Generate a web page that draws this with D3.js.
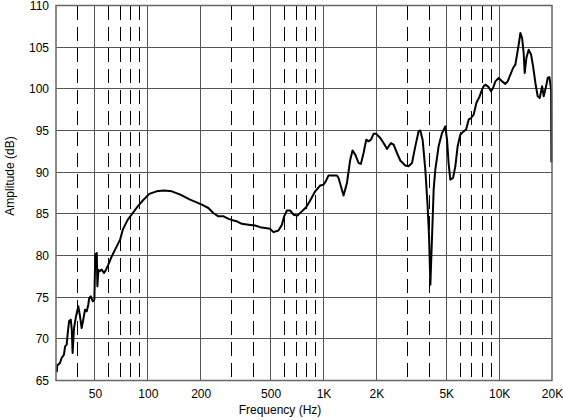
<!DOCTYPE html>
<html><head><meta charset="utf-8">
<script src="https://cdn.jsdelivr.net/npm/d3@7"></script>
<style>
html,body{margin:0;padding:0;background:#fff;}
svg{display:block;font-family:"Liberation Sans",Arial,sans-serif;}
</style></head>
<body>
<svg id="chart" width="563" height="420"></svg>
<script>
// Frequency response (Hz, dB)
const freqs = [30.3,30.5,31.6,32.3,33.3,33.8,34.5,35.0,35.6,36.4,36.9,37.3,38.0,39.0,40.2,41.1,42.0,42.9,43.9,44.9,45.8,46.4,47.3,48.6,49.6,50.2,51.2,51.6,52.3,52.9,54.6,56.3,57.8,59.6,62.3,65.1,69.5,72.0,76.9,82.1,87.6,93.6,102,112,123,137,153,174,203,221,236,252,270,288,307,321,343,374,408,436,466,497,519,554,580,597,619,646,675,711,754,797,840,897,958,1000,1030,1068,1193,1218,1301,1360,1420,1464,1517,1584,1634,1691,1752,1806,1864,1928,1998,2105,2198,2299,2423,2507,2621,2737,2922,3051,3192,3333,3480,3558,3668,3800,3917,3990,4060,4113,4183,4238,4333,4523,4731,4940,5051,5159,5275,5465,5632,5805,6012,6278,6481,6707,6921,7160,7420,7747,7994,8163,8346,8715,8997,9237,9519,9940,10392,10850,11184,11590,12007,12374,12923,13216,13514,13798,13980,14295,14733,15206,15609,16089,16581,17022,17567,17937,18512,18906,19332,19767,19845];
const amplitude = [66.0,66.8,67.1,67.7,68.1,69.1,69.3,70.7,72.1,72.3,71.1,68.3,71.3,72.7,73.9,72.7,71.3,72.3,73.5,73.3,74.1,74.9,75.1,74.5,74.7,80.1,80.3,76.3,78.3,78.1,78.3,77.9,78.3,78.9,79.9,80.7,81.9,83.1,84.3,85.1,85.9,86.6,87.4,87.7,87.8,87.7,87.3,86.7,86.1,85.7,85.1,84.7,84.7,84.4,84.2,84.1,83.8,83.7,83.6,83.4,83.3,83.2,82.8,83.0,83.7,84.7,85.4,85.4,84.9,84.8,85.3,85.8,86.6,87.7,88.4,88.5,88.9,89.6,89.6,89.3,87.2,88.7,91.5,92.6,92.1,91.1,91.0,92.3,93.9,93.7,93.9,94.6,94.6,94.1,93.5,92.8,93.5,93.3,92.3,91.4,90.8,90.7,91.1,93.1,94.9,95.0,93.9,90.3,85.9,82.3,76.5,79.9,84.3,87.9,90.3,93.1,94.7,95.5,93.9,91.0,89.1,89.3,90.7,93.1,94.5,94.9,95.1,96.3,96.5,96.9,98.3,99.1,99.9,100.3,100.5,100.2,99.7,100.1,100.9,101.3,100.9,100.6,100.9,101.7,102.5,102.9,105.3,106.7,106.1,104.3,101.9,103.7,104.7,104.1,102.7,100.7,99.1,98.9,100.3,99.1,100.3,101.3,101.4,99.9,91.2];

const xLabelValues = [50,100,200,500,1000,2000,5000,10000,20000];
const xLabelTexts = ["50","100","200","500","1K","2K","5K","10K","20K"];
const xMajorGrid = [50,100,200,500,1000,2000,5000,10000];
const xMinorGrid = [40,60,70,80,90,300,400,600,700,800,900,3000,4000,6000,7000,8000,9000];
const yTicks = [65,70,75,80,85,90,95,100,105,110];

const svg = d3.select("#chart");
const L = 56, R = 552, T = 5.5, B = 380.5;
const x = d3.scaleLog().domain([30,20000]).range([L,R]);
const y = d3.scaleLinear().domain([65,110]).range([B,T]);

const grid = svg.append("g").attr("shape-rendering","crispEdges");
grid.selectAll("line.h").data(yTicks).join("line")
  .attr("x1",L).attr("x2",R).attr("y1",d=>y(d)).attr("y2",d=>y(d))
  .attr("stroke","#555").attr("stroke-width",1);
grid.selectAll("line.vm").data(xMajorGrid).join("line")
  .attr("x1",d=>x(d)).attr("x2",d=>x(d)).attr("y1",T).attr("y2",B)
  .attr("stroke","#555").attr("stroke-width",1);
grid.selectAll("line.vd").data(xMinorGrid).join("line")
  .attr("x1",d=>x(d)).attr("x2",d=>x(d)).attr("y1",T).attr("y2",B)
  .attr("stroke","#000").attr("stroke-width",1).attr("stroke-dasharray","14,7");

const data = freqs.map((f,i)=>[f,amplitude[i]]);
svg.append("path").datum(data)
  .attr("fill","none").attr("stroke","#000").attr("stroke-width",2)
  .attr("stroke-linejoin","round")
  .attr("d", d3.line().x(d=>x(d[0])).y(d=>y(d[1])));

svg.append("rect").attr("x",L).attr("y",T).attr("width",R-L).attr("height",B-T)
  .attr("fill","none").attr("stroke","#666").attr("stroke-width",1.5);

// axes (labels only)
const xAxis = d3.axisBottom(x).tickValues(xLabelValues)
  .tickFormat((d,i)=>xLabelTexts[i]).tickSize(0).tickPadding(9);
const gx = svg.append("g").attr("transform",`translate(0,${B})`).call(xAxis);
gx.select(".domain").remove();
gx.selectAll("text").attr("font-size",12).attr("fill","#000")
  .attr("font-family","'Liberation Sans',Arial,sans-serif");

const yAxis = d3.axisLeft(y).tickValues(yTicks).tickSize(0).tickPadding(7);
const gy = svg.append("g").attr("transform",`translate(${L},0)`).call(yAxis);
gy.select(".domain").remove();
gy.selectAll("text").attr("font-size",12).attr("fill","#000")
  .attr("font-family","'Liberation Sans',Arial,sans-serif");

svg.append("text").attr("x",280).attr("y",414).attr("text-anchor","middle")
  .attr("font-size",12).attr("fill","#000").text("Frequency (Hz)");
svg.append("text").attr("transform","translate(14,176) rotate(-90)")
  .attr("text-anchor","middle").attr("font-size",12).attr("fill","#000")
  .text("Amplitude (dB)");
</script>
</body></html>
